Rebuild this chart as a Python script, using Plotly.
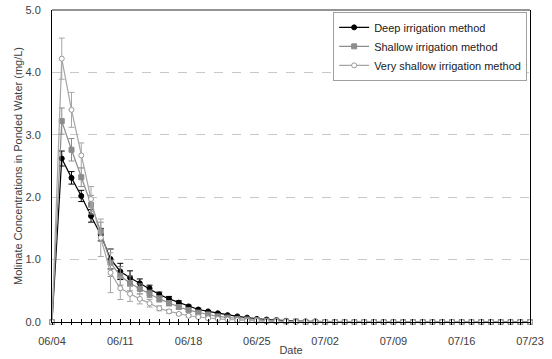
import plotly.graph_objects as go
import pandas as pd

dates = pd.date_range("2010-06-04", "2010-07-23", freq="D")

deep = [0, 2.62, 2.31, 2.02, 1.70, 1.40, 1.01, 0.81, 0.71, 0.62, 0.54, 0.44, 0.37, 0.31, 0.25,
        0.20, 0.17, 0.14, 0.11, 0.09, 0.07, 0.05, 0.04, 0.03, 0.02, 0.01, 0.01, 0.01]
deep_err = [0, 0.12, 0.10, 0.09, 0.10, 0.10, 0.16, 0.13, 0.11, 0.07, 0.05, 0.04, 0.04, 0.03, 0.02,
            0.02, 0.01, 0.01]
shallow = [0, 3.22, 2.76, 2.32, 1.88, 1.45, 0.95, 0.74, 0.62, 0.53, 0.45, 0.37, 0.30, 0.24, 0.19,
           0.15, 0.12, 0.09, 0.07, 0.05, 0.04, 0.03, 0.02, 0.02, 0.01, 0.01]
shallow_err = [0, 0.21, 0.18, 0.15, 0.15, 0.15, 0.22, 0.15, 0.12, 0.08, 0.06, 0.05, 0.04, 0.03, 0.02,
               0.02, 0.01, 0.01]
vshallow = [0, 4.22, 3.40, 2.67, 1.97, 1.35, 0.79, 0.54, 0.45, 0.37, 0.30, 0.22, 0.17, 0.13, 0.10,
            0.08, 0.06, 0.05, 0.04, 0.03, 0.02, 0.02, 0.01, 0.01, 0.01]
vshallow_err = [0, 0.33, 0.28, 0.20, 0.20, 0.30, 0.32, 0.18, 0.12, 0.08, 0.06, 0.04, 0.03, 0.02, 0.02,
                0.01, 0.01]

def pad(a, n=len(dates)):
    return list(a) + [0] * (n - len(a))

labels = ["Deep irrigation method", "Shallow irrigation method", "Very shallow irrigation method"]

fig = go.Figure()
series = [
    (deep, deep_err, "#000000", dict(symbol="circle", size=5, color="#000000", line=dict(color="#000000", width=1)), "#000000"),
    (shallow, shallow_err, "#8c8c8c", dict(symbol="square", size=5, color="#8c8c8c", line=dict(color="#8c8c8c", width=1)), "#8c8c8c"),
    (vshallow, vshallow_err, "#a6a6a6", dict(symbol="circle", size=5, color="#ffffff", line=dict(color="#999999", width=1)), "#a6a6a6"),
]
for (vals, err, lc, mk, ec), name in zip(series, labels):
    fig.add_trace(go.Scatter(
        x=dates, y=pad(vals), name=name, mode="lines+markers",
        line=dict(color=lc, width=1.2), marker=mk, cliponaxis=False,
        error_y=dict(type="data", array=pad(err), color=ec, thickness=1, width=3, visible=True),
    ))

font = "Liberation Sans, Arial, sans-serif"
fig.update_layout(
    width=552, height=359, margin=dict(l=52, r=22, t=10, b=37),
    paper_bgcolor="white", plot_bgcolor="white",
    font=dict(family=font, size=11, color="#404040"),
    showlegend=True,
    legend=dict(x=0.994, y=0.994, xanchor="right", yanchor="top", bgcolor="white",
                bordercolor="#a0a0a0", borderwidth=1, font=dict(size=11, color="#202020"),
                tracegroupgap=0, itemwidth=30),
    xaxis=dict(type="date", range=["2010-06-04", "2010-07-23"], tick0="2010-06-04",
               dtick=7 * 86400000, tickformat="%m/%d", showgrid=False, showline=True,
               linecolor="#000000", linewidth=1, ticks="outside", ticklen=2, tickcolor="#000000",
               minor=dict(dtick=86400000, ticks="outside", ticklen=2, tickcolor="#000000"),
               ticklabelstandoff=7,
               title=dict(text="Date", standoff=0, font=dict(size=11)), zeroline=False,
               automargin=False, tickfont=dict(size=11, color="#404040")),
    xaxis2=dict(type="date", range=["2010-06-04", "2010-07-23"], overlaying="x", tick0="2010-06-04",
                dtick=86400000, ticks="inside", ticklen=3, tickcolor="#000000", showticklabels=False,
                showgrid=False, side="bottom", showline=False, automargin=False),
    yaxis=dict(range=[0, 5], dtick=1, tickformat=".1f", showgrid=True, gridcolor="#c8c8c8",
               griddash="dash", gridwidth=1, showline=True, linecolor="#000000", linewidth=1,
               mirror=True, zeroline=False, ticks="", ticklabelstandoff=8, automargin=False,
               title=dict(text="Molinate Concentrations in Ponded Water (mg/L)", standoff=0,
                          font=dict(size=11)),
               tickfont=dict(size=11, color="#404040")),
    shapes=[dict(type="line", xref="paper", yref="paper", x0=0, x1=1, y0=1, y1=1,
                 line=dict(color="#707070", width=1.5))],
)
fig.add_trace(go.Scatter(x=[dates[0]], y=[None], xaxis="x2", showlegend=False, hoverinfo="skip"))
fig.write_html("out.html", config={"displayModeBar": False},
               post_script="document.body.style.margin='0';")
